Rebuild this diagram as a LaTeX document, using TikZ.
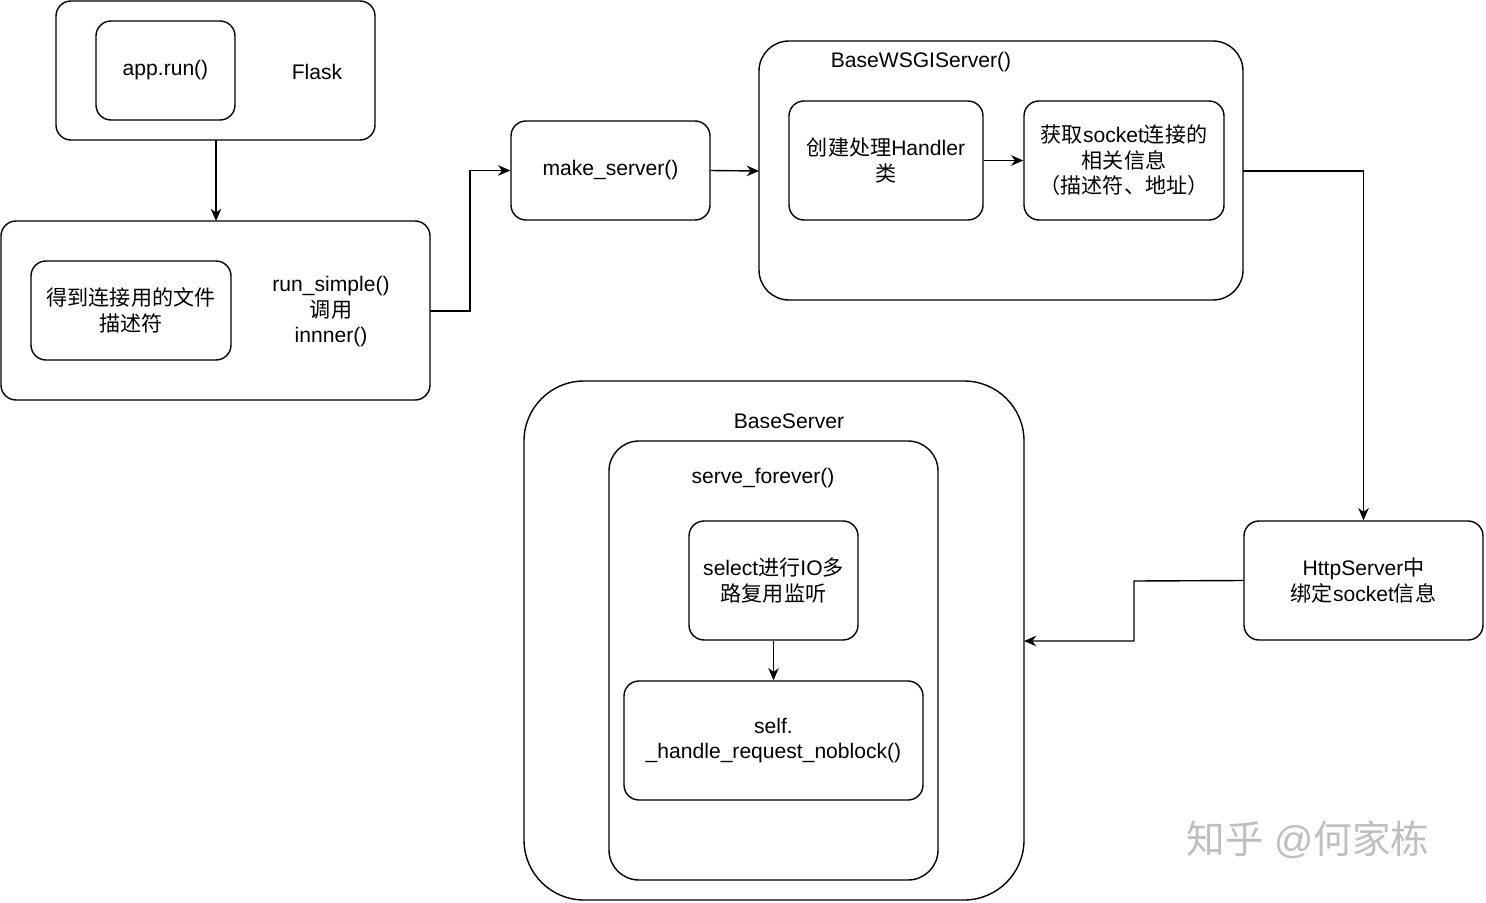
\documentclass[tikz,border=0pt]{standalone}
\usepackage{fontspec}
\setmainfont{Liberation Sans}
\newfontfamily\cjk{Noto Sans CJK SC}
\usetikzlibrary{arrows.meta}
\begin{document}
\begin{tikzpicture}[x=0.02cm,y=-0.02cm,
  box/.style={draw,line width=0.8pt,rounded corners=0.3cm},
  big/.style={draw,line width=0.8pt,rounded corners=0.6cm},
  txt/.style={font=\fontsize{12}{14.5}\selectfont,align=center},
  arr/.style={line width=0.8pt,-{Stealth[length=7pt,width=6pt]}}]
\useasboundingbox (0,0) rectangle (1486,902);
% Flask
\draw[box] (56,1) rectangle (375,140);
\coordinate (flaskS) at (216,140);
\node[draw,box,minimum width=139*0.02cm,minimum height=99*0.02cm,txt] (apprun) at (165.5,70.5) {app.run()};
\node[txt] (flask) at (317,72) {Flask};
% run_simple
\draw[box] (1,221) rectangle (430,400);
\coordinate (rsN) at (216,221);
\coordinate (rsE) at (430,311);
\node[draw,box,minimum width=200*0.02cm,minimum height=99*0.02cm,txt] (fd) at (131,310.5) {{\cjk 得到连接用的文件}\\{\cjk 描述符}};
\node[txt] (rs) at (331,312) {run\_simple()\\{\cjk 调用}\\innner()};
% make_server
\node[draw,box,minimum width=199*0.02cm,minimum height=99*0.02cm,txt] (mk) at (610.5,170.5) {make\_server()};
% BaseWSGIServer
\draw[big] (759,41) rectangle (1243,300);
\coordinate (wsW) at (759,171);
\coordinate (wsE) at (1243,171);
\node[txt] (wsl) at (921,62) {BaseWSGIServer()};
\node[draw,box,minimum width=194*0.02cm,minimum height=119*0.02cm,txt] (hd) at (886,160.5) {{\cjk 创建处理}Handler\\{\cjk 类}};
\node[draw,box,minimum width=200*0.02cm,minimum height=119*0.02cm,txt] (sk) at (1124,160.5) {{\cjk 获取}socket{\cjk 连接的}\\{\cjk 相关信息}\\{\cjk （描述符、地址）}};
% HttpServer
\node[draw,box,minimum width=239*0.02cm,minimum height=119*0.02cm,txt] (hs) at (1363.5,580.5) {HttpServer{\cjk 中}\\{\cjk 绑定}socket{\cjk 信息}};
% BaseServer
\draw[big,rounded corners=1.2cm] (524,381) rectangle (1024,900);
\coordinate (bsE) at (1024,641);
\node[txt] (bsl) at (789,421) {BaseServer};
\draw[big] (609,441) rectangle (938,880);
\node[txt] (sfl) at (763,478) {serve\_forever()};
\node[draw,box,minimum width=169*0.02cm,minimum height=119*0.02cm,txt] (sel) at (773.5,580.5) {select{\cjk 进行}IO{\cjk 多}\\{\cjk 路复用监听}};
\node[draw,box,minimum width=299*0.02cm,minimum height=119*0.02cm,txt] (hr) at (773.5,740.5) {self.\\\_handle\_request\_noblock()};
% watermark
\node[font=\fontsize{22}{24}\selectfont,text=black!25] (wm) at (1308,840) {{\cjk 知乎} @{\cjk 何家栋}};
% arrows
\draw[arr] (flaskS) -- (rsN);
\draw[arr] (rsE) -- (470,311) |- (mk.west);
\draw[arr] (mk.east) -- (wsW);
\draw[arr] (hd) -- (sk);
\draw[arr] (wsE) -| (hs.north);
\draw[arr] (hs.west) -- (1134,581) |- (bsE);
\draw[arr] (sel) -- (hr);
\end{tikzpicture}
\end{document}
